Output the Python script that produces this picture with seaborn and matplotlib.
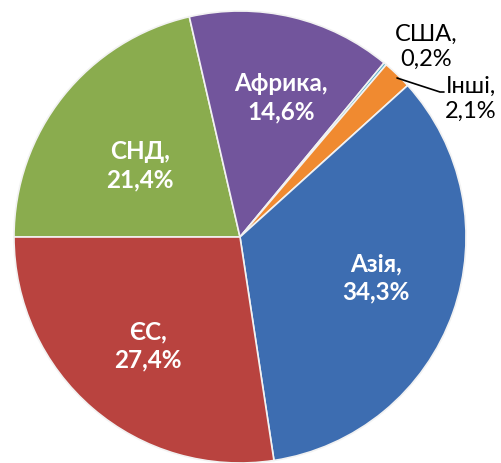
import matplotlib
matplotlib.use('Agg')
import matplotlib.pyplot as plt
import seaborn as sns

#%% ----------------- Data -----------------------------
regions = ['СНД', 'Африка', 'США', 'Інші', 'Азія', 'ЄС']
shares = [21.4, 14.6, 0.2, 2.1, 34.3, 27.4]
share_text = ['21,4%', '14,6%', '0,2%', '2,1%', '34,3%', '27,4%']

#%% ----------------- Style -----------------------------
sns.set_theme(style='white')
plt.rcParams['font.family'] = ['Lato', 'DejaVu Sans']

colors = ['#8aac4e', '#72559c', '#4bacc6', '#f08a30', '#3d6db1', '#b9433f']
explode = [0, 0, 0, 0.025, 0.012, 0]

# pie geometry in pixels (image coords, y down)
W, H = 501, 463
cx, cy, r = 240, 237, 226

fig = plt.figure(figsize=(W / 100, H / 100), dpi=100)
ax = fig.add_axes([0, 0, 1, 1])

wedges, _ = ax.pie(shares, colors=colors, startangle=180, counterclock=False,
                   center=(cx, H - cy), radius=r, explode=explode,
                   wedgeprops=dict(edgecolor='#f2f2f2', linewidth=1.2),
                   frame=True)
ax.set_xlim(0, W)
ax.set_ylim(0, H)
ax.set_aspect('equal')
ax.axis('off')

# label offsets from pie centre (px, y up); outside labels in image coords
inside_pos = {'СНД': (-100, 71), 'Африка': (41, 139), 'Азія': (136, -41), 'ЄС': (-92, -109)}
outside_pos = {'США': (426, 47), 'Інші': (471, 99)}

for name, txt in zip(regions, share_text):
    label = f'{name},\n{txt}'
    if name in inside_pos:
        dx, dy = inside_pos[name]
        ax.text(cx + dx, H - cy + dy, label, ha='center', va='center', color='white',
                fontsize=17.5, fontweight='bold', linespacing=1.3)
    else:
        x, y = outside_pos[name]
        ax.text(x, H - y, label, ha='center', va='center', color='black',
                fontsize=17, linespacing=1.2)

# leader line for "Інші"
ax.plot([397, 440, 444], [H - 78, H - 92, H - 92], color='black', lw=1.2)

plt.savefig('out.png', dpi=100)
